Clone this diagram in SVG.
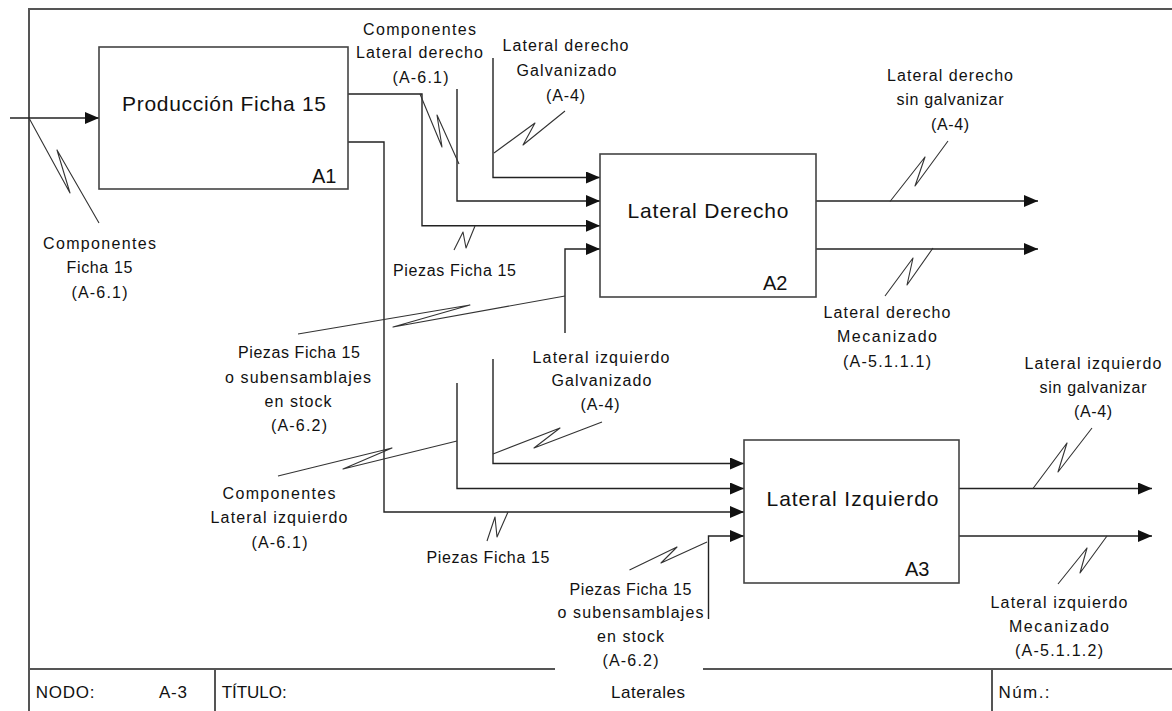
<svg xmlns="http://www.w3.org/2000/svg" width="1172" height="711" viewBox="0 0 1172 711">
  <style>
    .frame { fill: none; stroke: #555; stroke-width: 2; }
    .box { fill: #fff; stroke: #444; stroke-width: 1.6; }
    .conn { fill: none; stroke: #222; stroke-width: 1.4; }
    .arrow { marker-end: url(#arr); }
    .sq { fill: none; stroke: #333; stroke-width: 1.1; stroke-linejoin: round; }
    .bg { fill: #fff; stroke: none; }
    text { font-family: "Liberation Sans", Arial, sans-serif; fill: #111; }
    .lbl { font-size: 16px; text-anchor: middle; }
    .title { font-size: 21px; text-anchor: middle; }
    .id { font-size: 20px; }
    .bar { font-size: 17px; }
  </style>
  <defs>
    <marker id="arr" markerWidth="14" markerHeight="12" refX="14" refY="6" orient="auto" markerUnits="userSpaceOnUse">
      <path d="M0,0 L14,6 L0,12 Z" fill="#111"/>
    </marker>
  </defs>

  <rect x="0" y="0" width="1172" height="711" fill="#fff"/>

  <!-- sheet frame and title bar -->
  <g id="frame">
    <path class="frame" d="M29,711 V9 H1172"/>
    <path class="frame" d="M29,669 H1172"/>
    <path class="frame" d="M215,669 V711 M992,669 V711"/>
  </g>

  <!-- connectors -->
  <g id="connectors">
    <path class="conn arrow" d="M10,118 H99"/>
    <path class="conn arrow" d="M348,94 H422 V225.7 H600"/>
    <path class="conn arrow" d="M457,89 V201 H600"/>
    <path class="conn arrow" d="M493,58 V177.5 H600"/>
    <path class="conn arrow" d="M565,333 V249 H600"/>
    <path class="conn arrow" d="M348,142 H384 V512 H744"/>
    <path class="conn arrow" d="M457,383 V488.5 H744"/>
    <path class="conn arrow" d="M493,359 V463.5 H744"/>
    <path class="conn arrow" d="M708.5,619 V536 H744"/>
    <path class="conn arrow" d="M816,201 H1038"/>
    <path class="conn arrow" d="M816,249 H1038"/>
    <path class="conn arrow" d="M959,488.5 H1152"/>
    <path class="conn arrow" d="M959,536 H1152"/>

    <!-- label squiggles -->
    <polyline class="sq" points="29,118 70,193 57,150 99,223"/>
    <polyline class="sq" points="420,94 442,147 437,115 459,164"/>
    <polyline class="sq" points="494,153 535,123 523,145 565,111"/>
    <polyline class="sq" points="454,250 463,232 466,248 475,226"/>
    <polyline class="sq" points="298,334 470,305 393,327 565,296"/>
    <polyline class="sq" points="890,201.5 925,157 915,186 948,141"/>
    <polyline class="sq" points="885,296 913,258 907,285 933,248"/>
    <polyline class="sq" points="278,476 392,448 343,469 457,441"/>
    <polyline class="sq" points="493,454 560,428 534,448 602,422"/>
    <polyline class="sq" points="487,541 495,517 497,537 508,512"/>
    <polyline class="sq" points="629.5,570 677,547 661,563 707,542"/>
    <polyline class="sq" points="1033,488.5 1067,443 1058,472 1092,428"/>
    <polyline class="sq" points="1058,584 1087,548 1080,573 1107,536"/>
  </g>

  <!-- activity boxes -->
  <g id="A1">
    <rect class="box" x="99" y="47" width="249" height="142"/>
    <text class="title" x="224" y="111" textLength="204" lengthAdjust="spacing">Producción Ficha 15</text>
    <text class="id" x="312" y="183">A1</text>
  </g>
  <g id="A2">
    <rect class="box" x="600" y="154" width="216" height="143"/>
    <text class="title" x="708" y="218" textLength="161" lengthAdjust="spacing">Lateral Derecho</text>
    <text class="id" x="763" y="290">A2</text>
  </g>
  <g id="A3">
    <rect class="box" x="744" y="440" width="215" height="143"/>
    <text class="title" x="852.5" y="506" textLength="172" lengthAdjust="spacing">Lateral Izquierdo</text>
    <text class="id" x="905" y="576">A3</text>
  </g>

  <!-- arrow labels -->
  <g id="lbl-componentes-ficha15">
    <text class="lbl" x="99.5" y="249" textLength="113" lengthAdjust="spacing">Componentes</text>
    <text class="lbl" x="99.5" y="273" textLength="66" lengthAdjust="spacing">Ficha 15</text>
    <text class="lbl" x="99.5" y="298" textLength="56" lengthAdjust="spacing">(A-6.1)</text>
  </g>
  <g id="lbl-componentes-lat-der">
    <text class="lbl" x="419.5" y="35" textLength="113" lengthAdjust="spacing">Componentes</text>
    <text class="lbl" x="419.5" y="58" textLength="127" lengthAdjust="spacing">Lateral derecho</text>
    <text class="lbl" x="420.5" y="83" textLength="56" lengthAdjust="spacing">(A-6.1)</text>
  </g>
  <g id="lbl-lat-der-galv">
    <text class="lbl" x="565.5" y="51" textLength="126" lengthAdjust="spacing">Lateral derecho</text>
    <text class="lbl" x="566.5" y="76" textLength="100" lengthAdjust="spacing">Galvanizado</text>
    <text class="lbl" x="565.5" y="101" textLength="39" lengthAdjust="spacing">(A-4)</text>
  </g>
  <g id="lbl-piezas-der">
    <text class="lbl" x="454.5" y="276" textLength="123" lengthAdjust="spacing">Piezas Ficha 15</text>
  </g>
  <g id="lbl-lat-der-sin-galv">
    <text class="lbl" x="950" y="81" textLength="126" lengthAdjust="spacing">Lateral derecho</text>
    <text class="lbl" x="950" y="105" textLength="107" lengthAdjust="spacing">sin galvanizar</text>
    <text class="lbl" x="950" y="130" textLength="38" lengthAdjust="spacing">(A-4)</text>
  </g>
  <g id="lbl-lat-der-mec">
    <text class="lbl" x="887" y="318" textLength="127" lengthAdjust="spacing">Lateral derecho</text>
    <text class="lbl" x="887" y="342" textLength="100" lengthAdjust="spacing">Mecanizado</text>
    <text class="lbl" x="887" y="367" textLength="88" lengthAdjust="spacing">(A-5.1.1.1)</text>
  </g>
  <g id="lbl-piezas-stock-der">
    <text class="lbl" x="299" y="358" textLength="122" lengthAdjust="spacing">Piezas Ficha 15</text>
    <text class="lbl" x="298" y="383" textLength="146" lengthAdjust="spacing">o subensamblajes</text>
    <text class="lbl" x="298" y="407" textLength="67" lengthAdjust="spacing">en stock</text>
    <text class="lbl" x="299" y="431" textLength="56" lengthAdjust="spacing">(A-6.2)</text>
  </g>
  <g id="lbl-componentes-lat-izq">
    <text class="lbl" x="279" y="499" textLength="113" lengthAdjust="spacing">Componentes</text>
    <text class="lbl" x="279" y="523" textLength="137" lengthAdjust="spacing">Lateral izquierdo</text>
    <text class="lbl" x="279.5" y="548" textLength="56" lengthAdjust="spacing">(A-6.1)</text>
  </g>
  <g id="lbl-lat-izq-galv">
    <text class="lbl" x="601" y="363" textLength="137" lengthAdjust="spacing">Lateral izquierdo</text>
    <text class="lbl" x="601.5" y="386" textLength="100" lengthAdjust="spacing">Galvanizado</text>
    <text class="lbl" x="600" y="410" textLength="39" lengthAdjust="spacing">(A-4)</text>
  </g>
  <g id="lbl-piezas-izq">
    <text class="lbl" x="488" y="563" textLength="123" lengthAdjust="spacing">Piezas Ficha 15</text>
  </g>
  <g id="lbl-lat-izq-sin-galv">
    <text class="lbl" x="1093" y="369" textLength="137" lengthAdjust="spacing">Lateral izquierdo</text>
    <text class="lbl" x="1093" y="393" textLength="107" lengthAdjust="spacing">sin galvanizar</text>
    <text class="lbl" x="1093" y="417" textLength="38" lengthAdjust="spacing">(A-4)</text>
  </g>
  <g id="lbl-piezas-stock-izq">
    <rect class="bg" x="555" y="577" width="148" height="95"/>
    <text class="lbl" x="630.5" y="595" textLength="122" lengthAdjust="spacing">Piezas Ficha 15</text>
    <text class="lbl" x="630.5" y="618" textLength="146" lengthAdjust="spacing">o subensamblajes</text>
    <text class="lbl" x="630.5" y="642" textLength="67" lengthAdjust="spacing">en stock</text>
    <text class="lbl" x="630.5" y="666" textLength="56" lengthAdjust="spacing">(A-6.2)</text>
  </g>
  <g id="lbl-lat-izq-mec">
    <text class="lbl" x="1059" y="608" textLength="137" lengthAdjust="spacing">Lateral izquierdo</text>
    <text class="lbl" x="1059" y="632" textLength="100" lengthAdjust="spacing">Mecanizado</text>
    <text class="lbl" x="1059" y="656" textLength="88" lengthAdjust="spacing">(A-5.1.1.2)</text>
  </g>

  <!-- title bar text -->
  <g id="title-bar">
    <text class="bar" x="35.7" y="697.5" textLength="58.7" lengthAdjust="spacing">NODO:</text>
    <text class="bar" x="159" y="697.5" textLength="28" lengthAdjust="spacing">A-3</text>
    <text class="bar" x="221.7" y="697.5" textLength="65" lengthAdjust="spacing">TÍTULO:</text>
    <text class="bar" x="648" y="697.5" text-anchor="middle" textLength="74" lengthAdjust="spacing">Laterales</text>
    <text class="bar" x="998.5" y="697.5" textLength="51" lengthAdjust="spacing">Núm.:</text>
  </g>
</svg>
